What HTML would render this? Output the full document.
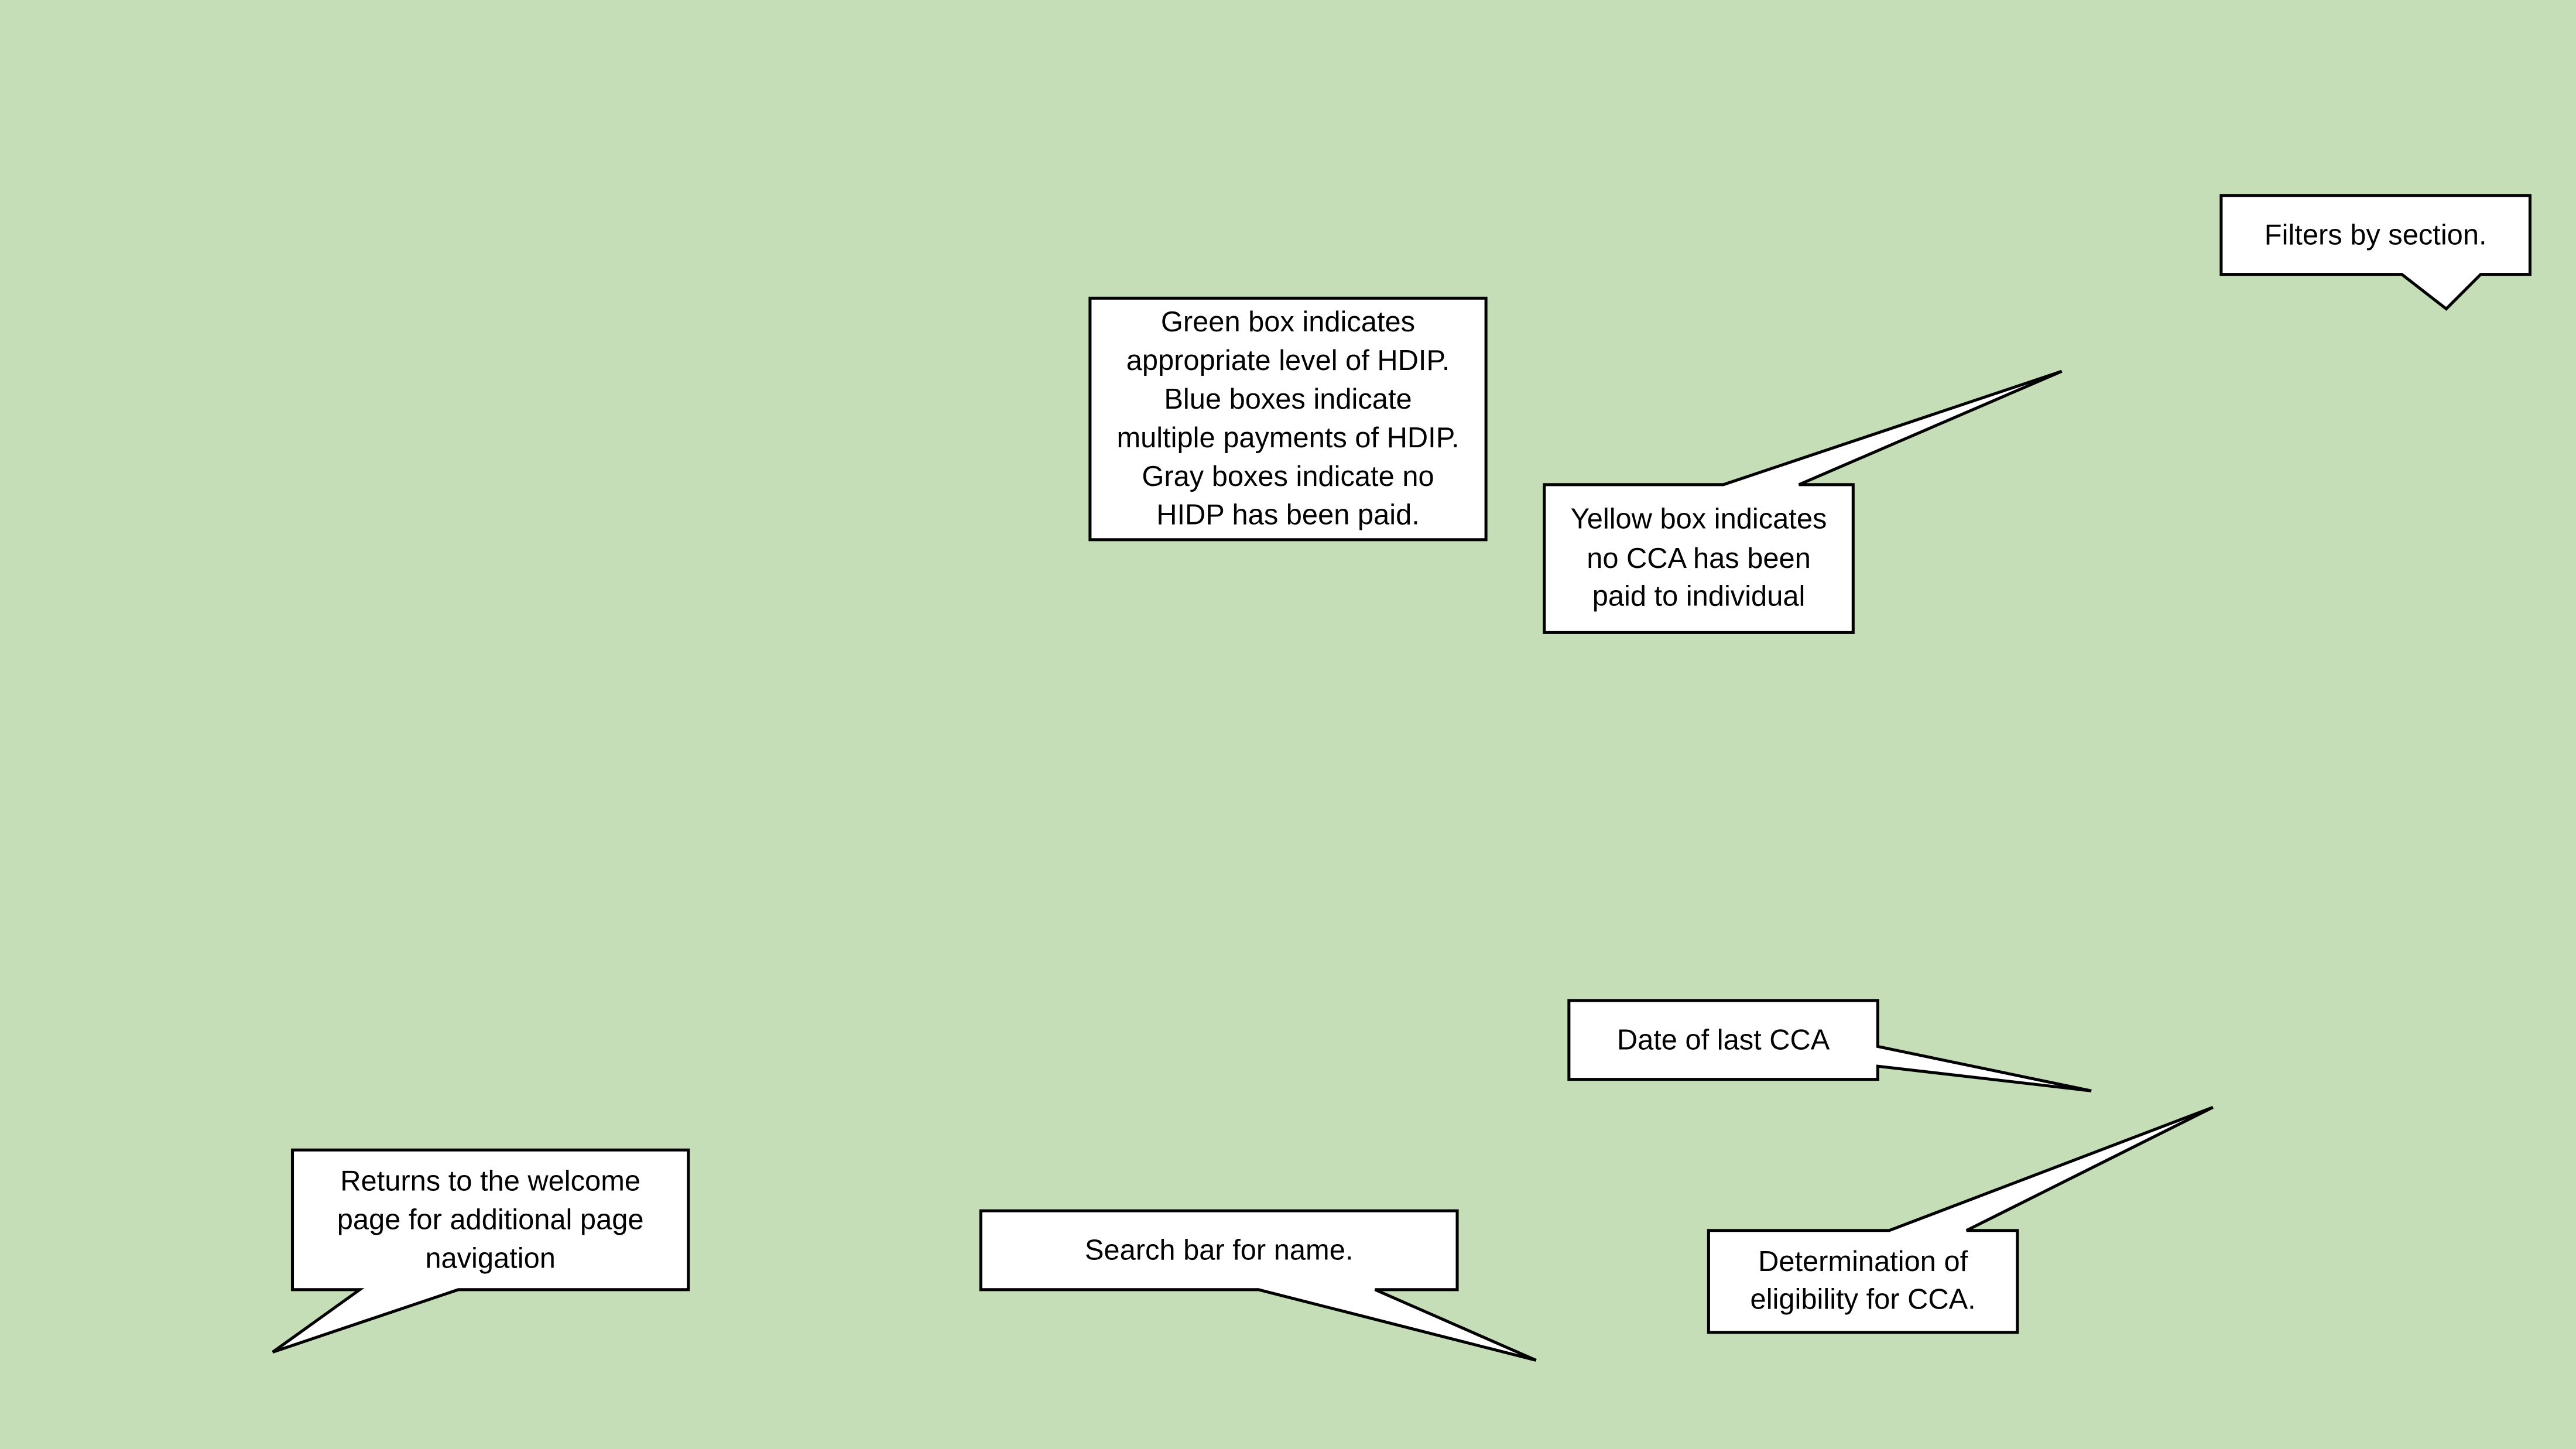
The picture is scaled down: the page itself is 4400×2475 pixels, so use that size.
<!DOCTYPE html>
<html><head><meta charset="utf-8"><style>
html,body{margin:0;padding:0;background:#C5DEB7;}
svg{display:block;}
text{font-family:"Liberation Sans",sans-serif;font-size:17.4px;fill:#000;text-anchor:middle;dominant-baseline:central;}
path,rect{fill:#fff;stroke:#000;stroke-width:1.8;stroke-linejoin:miter;}
</style></head><body>
<svg width="4400" height="2475" viewBox="0 0 1568 882" xmlns="http://www.w3.org/2000/svg">
<rect x="0" y="0" width="1568" height="882" style="fill:#C5DEB7;stroke:none"/>
<path d="M1352,119 H1540 V167 H1510 L1489,188 L1462,167 H1352 Z"/>
<text x="1446" y="143">Filters by section.</text>

<rect x="663.5" y="181.5" width="241" height="147"/>
<text x="784" y="196">Green box indicates</text>
<text x="784" y="219.5">appropriate level of HDIP.</text>
<text x="784" y="243">Blue boxes indicate</text>
<text x="784" y="266.5">multiple payments of HDIP.</text>
<text x="784" y="290">Gray boxes indicate no</text>
<text x="784" y="313.5">HIDP has been paid.</text>

<path d="M940,295 H1049 L1255,226 L1095,295 H1128 V385 H940 Z"/>
<text x="1034" y="316">Yellow box indicates</text>
<text x="1034" y="340">no CCA has been</text>
<text x="1034" y="363">paid to individual</text>

<path d="M955,609 H1143 V637 L1273,664 L1143,649 V657 H955 Z"/>
<text x="1049" y="633">Date of last CCA</text>

<path d="M1040,749 H1150 L1347,674 L1197,749 H1228 V811 H1040 Z"/>
<text x="1134" y="768">Determination of</text>
<text x="1134" y="791">eligibility for CCA.</text>

<path d="M178,700 H419 V785 H279 L166,823 L219,785 H178 Z"/>
<text x="298.5" y="719">Returns to the welcome</text>
<text x="298.5" y="742.5">page for additional page</text>
<text x="298.5" y="766">navigation</text>

<path d="M597,737 H887 V785 H837 L935,828 L766,785 H597 Z"/>
<text x="742" y="761">Search bar for name.</text>
</svg>
</body></html>
